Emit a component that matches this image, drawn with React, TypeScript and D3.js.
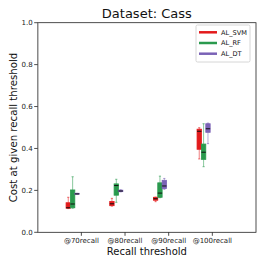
import React from 'react'
import * as d3 from "d3";

const categories = ["@70recall", "@80recall", "@90recall", "@100recall"]
const methods = ["AL_SVM", "AL_RF", "AL_DT"]
const colors = ["#e31a1c", "#2a9a4e", "#7a62b6"]

// [whisker low, q1, median, q3, whisker high]
const svmStats = [
  [0.113, 0.115, 0.117, 0.141, 0.167],
  [0.125, 0.127, 0.136, 0.147, 0.162],
  [0.146, 0.153, 0.160, 0.167, 0.168],
  [0.350, 0.396, 0.482, 0.492, 0.499],
]
const rfStats = [
  [0.115, 0.117, 0.135, 0.202, 0.265],
  [0.143, 0.177, 0.223, 0.231, 0.253],
  [0.165, 0.167, 0.187, 0.236, 0.268],
  [0.313, 0.348, 0.382, 0.421, 0.518],
]
const dtStats = [
  [0.182, 0.182, 0.183, 0.186, 0.186],
  [0.193, 0.194, 0.197, 0.201, 0.203],
  [0.205, 0.209, 0.221, 0.248, 0.257],
  [0.423, 0.477, 0.494, 0.518, 0.521],
]
const offsets = [-0.3, -0.2, -0.1]
const yTicks = [0, 0.2, 0.4, 0.6, 0.8, 1.0]

const font = "DejaVu Sans, sans-serif"

export default function App() {
  const width = 266
  const height = 266
  const margin = { top: 22.7, right: 10, bottom: 33.7, left: 37.7 }

  const x = d3.scaleLinear().domain([0, 5]).range([margin.left, width - margin.right])
  const y = d3.scaleLinear().domain([0, 1]).range([height - margin.bottom, margin.top])

  const allStats = [svmStats, rfStats, dtStats]
  const boxW = x(0.1) - x(0)

  return (
    <svg width={width} height={height} style={{ position: "absolute", left: 0, top: 0, background: "#fff" }}>
      {/* boxes */}
      {allStats.map((stats, m) =>
        stats.map((s, i) => {
          const cx = x(i + 1 + offsets[m])
          const [lo, q1, med, q3, hi] = s
          return (
            <g key={`${m}-${i}`}>
              <line x1={cx} x2={cx} y1={y(lo)} y2={y(q1)} stroke={colors[m]} strokeOpacity={0.55} strokeWidth={1} />
              <line x1={cx} x2={cx} y1={y(q3)} y2={y(hi)} stroke={colors[m]} strokeOpacity={0.55} strokeWidth={1} />
              <line x1={cx - boxW / 4} x2={cx + boxW / 4} y1={y(lo)} y2={y(lo)} stroke={colors[m]} strokeOpacity={0.6} />
              <line x1={cx - boxW / 4} x2={cx + boxW / 4} y1={y(hi)} y2={y(hi)} stroke={colors[m]} strokeOpacity={0.6} />
              <rect x={cx - boxW / 2} y={y(q3)} width={boxW} height={Math.max(y(q1) - y(q3), 0.8)}
                fill={colors[m]} stroke={colors[m]} strokeWidth={0.8} />
              <line x1={cx - boxW / 2} x2={cx + boxW / 2} y1={y(med)} y2={y(med)} stroke="#111" strokeWidth={1} />
            </g>
          )
        })
      )}

      {/* frame */}
      <rect x={margin.left} y={margin.top} width={width - margin.right - margin.left}
        height={height - margin.bottom - margin.top} fill="none" stroke="#222" strokeWidth={0.8} />
      <line x1={margin.left} x2={margin.left} y1={margin.top} y2={height - margin.bottom} stroke="#888" strokeWidth={1.4} />

      {/* y axis */}
      {yTicks.map(t => (
        <g key={t}>
          <line x1={margin.left - 3.5} x2={margin.left} y1={y(t)} y2={y(t)} stroke="#222" strokeWidth={0.8} />
          <text x={margin.left - 5} y={y(t)} dy="0.35em" textAnchor="end" fontSize={7} fontFamily={font} fill="#222">
            {t.toFixed(1)}
          </text>
        </g>
      ))}

      {/* x axis */}
      {categories.map((c, i) => (
        <g key={c}>
          <line x1={x(i + 1)} x2={x(i + 1)} y1={height - margin.bottom} y2={height - margin.bottom + 3.5} stroke="#222" strokeWidth={0.8} />
          <text x={x(i + 1)} y={height - margin.bottom + 11} textAnchor="middle" fontSize={7} fontFamily={font} fill="#222">
            {c}
          </text>
        </g>
      ))}

      <text x={(margin.left + width - margin.right) / 2} y={255} textAnchor="middle" fontSize={10} fontFamily={font} fill="#111">
        Recall threshold
      </text>
      <text transform={`translate(16.5, ${(margin.top + height - margin.bottom) / 2}) rotate(-90)`} textAnchor="middle"
        fontSize={10.2} fontFamily={font} fill="#111">
        Cost at given recall threshold
      </text>
      <text x={(margin.left + width - margin.right) / 2} y={18} textAnchor="middle" fontSize={13} fontFamily={font} fill="#111">
        Dataset: Cass
      </text>

      {/* legend */}
      <rect x={196} y={25} width={54} height={37} rx={1.5} fill="#fff" stroke="#ccc" strokeWidth={0.8} />
      {methods.map((name, m) => (
        <g key={name}>
          <line x1={199} x2={217} y1={32.3 + m * 10.7} y2={32.3 + m * 10.7} stroke={colors[m]} strokeWidth={2.5} />
          <text x={221} y={32.3 + m * 10.7} dy="0.35em" fontSize={6.6} fontFamily={font} fill="#111">{name}</text>
        </g>
      ))}
    </svg>
  )
}
